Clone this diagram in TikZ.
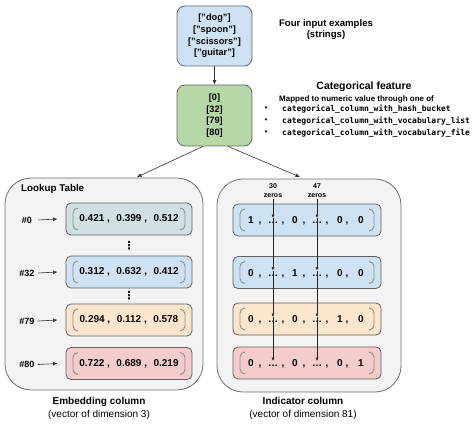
\documentclass[tikz,border=0pt]{standalone}
\usepackage{fontspec}
\setmainfont{Liberation Sans}
\setmonofont{DejaVu Sans Mono}
\newfontfamily\dvsans{DejaVu Sans}
\usetikzlibrary{arrows.meta}
\definecolor{inblue}{HTML}{CFE2F3}
\definecolor{catgreen}{HTML}{B6D7A8}
\definecolor{rowteal}{HTML}{D0E0E3}
\definecolor{roworange}{HTML}{FCE5CD}
\definecolor{rowred}{HTML}{F4CCCC}
\definecolor{contfill}{HTML}{F3F3F3}
\definecolor{contedge}{HTML}{707070}
\definecolor{rowedge}{HTML}{606060}
\definecolor{edgegray}{HTML}{666666}
\definecolor{brkcol}{HTML}{8C8C8C}
\begin{document}
\begin{tikzpicture}[x=1pt,y=-1pt,
  arr/.style={-{Latex[length=4.5pt,width=3.8pt]}, line width=0.6pt, draw=black!80},
  sarr/.style={-{Latex[length=3.5pt,width=3pt]}, line width=0.5pt, draw=black!85},
  topbox/.style={draw=edgegray, line width=0.8pt, rounded corners=8pt, align=center,
    font=\fontsize{9.2}{11.7}\selectfont\bfseries, inner sep=0pt},
  cont/.style={draw=contedge, fill=contfill, line width=0.8pt, rounded corners=26pt, inner sep=0pt},
  rowbox/.style={draw=rowedge, line width=0.8pt, rounded corners=5pt, inner sep=0pt,
    minimum height=32pt, font=\fontsize{10}{12}\selectfont\bfseries,
    path picture={
      \draw[brkcol, line width=0.9pt]
        ([xshift=12pt,yshift=-5pt]path picture bounding box.north west) --
        ([xshift=7pt,yshift=-5pt]path picture bounding box.north west) --
        ([xshift=7pt,yshift=5pt]path picture bounding box.south west) --
        ([xshift=12pt,yshift=5pt]path picture bounding box.south west);
      \draw[brkcol, line width=0.9pt]
        ([xshift=-12pt,yshift=-5pt]path picture bounding box.north east) --
        ([xshift=-7pt,yshift=-5pt]path picture bounding box.north east) --
        ([xshift=-7pt,yshift=5pt]path picture bounding box.south east) --
        ([xshift=-12pt,yshift=5pt]path picture bounding box.south east);
    }},
  hlab/.style={font=\fontsize{9}{11}\selectfont\bfseries, inner sep=0pt},
  tok/.style={anchor=base, inner sep=0pt, font=\fontsize{10}{12}\selectfont\bfseries},
  zlab/.style={align=center, inner sep=0.5pt, font=\fontsize{7}{9}\selectfont\bfseries},
  capb/.style={font=\fontsize{10}{12}\selectfont\bfseries, inner sep=0pt},
  capr/.style={font=\fontsize{10}{12}\selectfont, inner sep=0pt},
  vdot/.style={inner sep=0pt, font=\fontsize{11}{11}\dvsans\bfseries},
  mono/.style={anchor=west, inner sep=0pt, font=\fontsize{8}{9}\ttfamily\bfseries},
  bul/.style={inner sep=0pt, font=\fontsize{8}{9}\selectfont}
]
\useasboundingbox (0,0) rectangle (474,425);

% top boxes
\node[topbox, fill=inblue, minimum width=75pt, minimum height=60pt] (inp) at (214.5,36)
  {["dog"]\\{}["spoon"]\\{}["scissors"]\\{}["guitar"]};
\node[topbox, fill=catgreen, minimum width=75pt, minimum height=61pt] (cat) at (214.5,115.5)
  {[0]\\{}[32]\\{}[79]\\{}[80]};
\draw[arr] (inp) -- (cat);

% right-hand texts
\node[font=\fontsize{9.6}{11}\selectfont\bfseries, align=center] (fie) at (326,29.5)
  {Four input examples\\(strings)};
\node[font=\fontsize{10.5}{12}\selectfont\bfseries] (cf) at (364,87) {Categorical feature};
\node[anchor=west, inner sep=0pt, font=\fontsize{8}{9}\selectfont\bfseries] (map) at (279,99)
  {Mapped to numeric value through one of};
\node[bul] (b1) at (266,109) {\textbullet};
\node[bul] (b2) at (266,121) {\textbullet};
\node[bul] (b3) at (266,133) {\textbullet};
\node[mono] (m1) at (282,109) {categorical\_column\_with\_hash\_bucket};
\node[mono] (m2) at (282,121) {categorical\_column\_with\_vocabulary\_list};
\node[mono] (m3) at (282,133) {categorical\_column\_with\_vocabulary\_file};

% containers
\node[cont, minimum width=198pt, minimum height=212pt] (emb) at (104,284) {};
\node[cont, minimum width=184pt, minimum height=213pt] (ind) at (309,285.5) {};
\coordinate (embin) at (137,177);
\coordinate (indin) at (300,177);
\draw[arr] ([xshift=-11.5pt]cat.south) -- (embin);
\draw[arr] ([xshift=13.5pt]cat.south) -- (indin);

% embedding column
\node[anchor=west, inner sep=0pt, font=\fontsize{9.8}{11}\selectfont\bfseries] (lt) at (21,189) {Lookup Table};
\foreach \n/\y/\c/\t in {
  0/219/rowteal/{0.421 ,\hspace{6.5pt}0.399 ,\hspace{6.5pt}0.512},
  32/272/inblue/{0.312 ,\hspace{6.5pt}0.632 ,\hspace{6.5pt}0.412},
  79/320/roworange/{0.294 ,\hspace{6.5pt}0.112 ,\hspace{6.5pt}0.578},
  80/363.5/rowred/{0.722 ,\hspace{6.5pt}0.689 ,\hspace{6.5pt}0.219}} {
  \node[rowbox, fill=\c, minimum width=126pt] (e\n) at (129,\y) {\t};
  \node[hlab] (h\n) at (27,\y+1) {\#\n};
  \draw[arr] ([xshift=11pt]h\n.center) -- ([xshift=-8pt]e\n.west);
}
\node[vdot] (d1) at (129,246) {⋮};
\node[vdot] (d2) at (129,296) {⋮};

% indicator column
\foreach \n/\y/\c/\a/\b/\cc/\d in {
  1/220/inblue/1/0/0/0,
  2/272.5/inblue/0/1/0/0,
  3/319/roworange/0/0/1/0,
  4/363/rowred/0/0/0/1} {
  \node[rowbox, fill=\c, minimum width=148pt] (i\n) at (307,\y) {};
  \node[tok] (t\n a) at (251,\y+3.6) {\a};
  \node[tok] (t\n b) at (295,\y+3.6) {\b};
  \node[tok] (t\n c) at (340,\y+3.6) {\cc};
  \node[tok] (t\n d) at (361,\y+3.6) {\d};
  \node[tok] (t\n e) at (273,\y+3.6) {…};
  \node[tok] (t\n f) at (317,\y+3.6) {…};
  \foreach \k/\x in {1/260,2/283,3/304,4/327,5/347}
    \node[tok] (t\n k\k) at (\x,\y+3.6) {,};
  \coordinate (p\n) at (273,\y-2);
  \coordinate (q\n) at (317,\y-2);
}
\node[zlab] (z30) at (273,191) {30\\zeros};
\node[zlab] (z47) at (317,191) {47\\zeros};
\draw[sarr] (z30.south) -- (p1);
\draw[sarr] (p1) -- (p2);
\draw[sarr] (p2) -- (p3);
\draw[sarr] (p3) -- (p4);
\draw[sarr] (z47.south) -- (q1);
\draw[sarr] (q1) -- (q2);
\draw[sarr] (q2) -- (q3);
\draw[sarr] (q3) -- (q4);

% captions
\node[capb] (ecap) at (99,402) {Embedding column};
\node[capr] (ecap2) at (99,414.5) {(vector of dimension 3)};
\node[capb] (icap) at (303,401) {Indicator column};
\node[capr] (icap2) at (303,414.5) {(vector of dimension 81)};
\end{tikzpicture}
\end{document}
